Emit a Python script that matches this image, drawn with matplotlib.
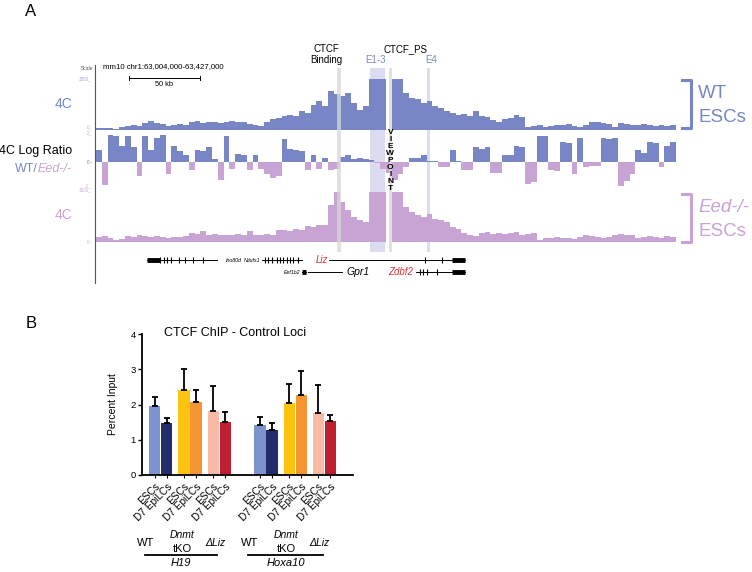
import matplotlib
matplotlib.use('Agg')
import matplotlib.pyplot as plt
from matplotlib.lines import Line2D
import numpy as np

plt.rcParams['font.family'] = ['Liberation Sans', 'DejaVu Sans']

W, H = 752, 572

# 4C signal, 100 bins across chr1:63,004,000-63,427,000
wt_4c = [100, 120, 90, 80, 150, 250, 300, 250, 400, 550,
         400, 350, 250, 300, 350, 300, 450, 550, 400, 500,
         450, 400, 500, 550, 450, 500, 350, 300, 250, 450,
         650, 700, 800, 900, 850, 1100, 1000, 1500, 1700, 1400,
         2300, 2100, 2000, 2200, 1600, 1200, 1400, 3000, 3000, 3000,
         0, 3000, 3000, 2200, 1900, 1800, 1600, 1700, 1400, 1300,
         1100, 1000, 900, 950, 850, 1100, 800, 750, 600, 500,
         650, 700, 900, 750, 200, 250, 300, 200, 250, 300,
         300, 350, 250, 200, 300, 450, 450, 400, 350, 150,
         400, 350, 300, 300, 350, 300, 250, 300, 250, 300]

log_ratio = [0.9, -1.7, 2.0, 1.9, 1.2, 1.9, 1.1, -1.0, 1.9, 0.9,
             1.8, 2.0, -0.9, 1.2, 0.8, 0.5, -0.6, 0.9, 0.8, 1.1,
             0.2, -1.3, 1.9, -0.5, 0.6, 0.5, -0.6, 0.5, -0.5, -0.9,
             -1.2, -1.0, 1.7, 1.0, 0.9, 0.8, -0.6, 0.5, -0.5, 0.3,
             -0.6, -0.5, 0.4, 0.5, 0.2, 0.3, 0.2, 0.15, -0.1, -0.5,
             -0.8, -1.3, -0.9, -0.4, 0.3, 0.3, 0.55, 0.1, 0.05, -0.4,
             -0.4, 0.9, 0.1, -0.6, -0.6, 1.1, 1.0, 1.1, -0.8, -0.8,
             0.5, 0.55, 1.2, 1.1, -1.6, -1.5, 1.9, 1.9, -0.6, -0.7,
             1.5, 1.4, -0.9, 1.8, -0.4, -0.3, -0.3, 1.8, 1.7, 1.8,
             -1.8, -1.4, -0.9, 0.9, 0.7, 1.5, 1.4, -0.4, 1.2, 1.5]

eed_4c = [300, 350, 250, 150, 200, 350, 300, 400, 350, 300,
          350, 300, 250, 300, 300, 350, 550, 500, 650, 450,
          500, 400, 450, 400, 500, 450, 650, 400, 450, 500,
          450, 750, 700, 650, 800, 750, 950, 900, 1000, 1050,
          2200, 3000, 2400, 1900, 1500, 1300, 1200, 3000, 3000, 3000,
          0, 3000, 3000, 2100, 1800, 1600, 1500, 1700, 1400, 1300,
          1200, 900, 800, 550, 450, 350, 550, 600, 500, 550,
          500, 550, 600, 450, 500, 550, 100, 250, 250, 300,
          250, 250, 200, 300, 400, 350, 300, 250, 300, 400,
          500, 450, 400, 250, 300, 350, 300, 250, 350, 300]

# highlighted regions (bin units)
hl_start = [41.6, 47.2, 50.5, 57.1]
hl_end = [42.3, 49.8, 51.0, 57.6]
hl_on_top = [True, False, True, False]

# gene models (bin units)
gene_names = ['Ino80d', 'Ndufs1', 'Liz', 'Eef1b2', 'Gpr1', 'Zdbf2']
gene_row = [260, 260, 260, 272, 272, 272]
gene_start = [8.8, 28.6, 40.2, 35.5, 36.6, 55.2]
gene_end = [20.9, 35.5, 63.6, 36.2, 42.4, 63.6]
gene_thick = [(8.8, 11.0), None, (61.4, 63.6), (35.5, 36.2), None, (61.4, 63.6)]
gene_exons = [[11.1, 11.7, 12.3, 13.0, 14.3, 15.3, 16.7, 18.5],
              [29.1, 29.7, 30.3, 31.2, 31.7, 32.2, 32.9, 33.4, 34.0, 34.8],
              [56.7, 59.7], [], [], [55.9, 56.4, 57.1, 58.8]]

# CTCF ChIP bar chart
conditions = ['ESCs', 'D7 EpiLCs'] * 6
loci = ['H19', 'Hoxa10']
genotypes = ['WT', 'Dnmt', 'ΔLiz']
pct_input = [1.96, 1.47, 2.41, 2.07, 1.81, 1.50, 1.43, 1.27, 2.05, 2.28, 1.77, 1.53]
pct_err = [0.24, 0.16, 0.60, 0.34, 0.72, 0.28, 0.21, 0.21, 0.54, 0.68, 0.77, 0.17]
bar_colors = ['#7D93CF', '#232D6B', '#FDC30F', '#F49433', '#F8B9A5', '#C01F32'] * 2

blue = '#7886C6'
purple = '#C7A4D3'
red = '#E0323C'


def box(x0, y0, x1, y1):
    return [x0 / W, 1 - y1 / H, (x1 - x0) / W, (y1 - y0) / H]


def fx(x):
    return x / W


def fy(y):
    return 1 - y / H


fig = plt.figure(figsize=(7.52, 5.72), dpi=100)

# ---------- panel A ----------
ax_bg = fig.add_axes(box(96, 68, 676, 252))
ax_bg.set_xlim(0, 100)
ax_bg.set_ylim(0, 1)
ax_bg.axis('off')
for a, b, top in zip(hl_start, hl_end, hl_on_top):
    if not top:
        ax_bg.axvspan(a, b, color='#DCDCF0', lw=0)

bins = np.arange(len(wt_4c))
ax_wt = fig.add_axes(box(96, 79, 676, 130))
ax_wt.bar(bins, wt_4c, width=1, align='edge', color=blue, lw=0)
ax_wt.set_ylim(0, 3000)

lr = np.array(log_ratio)
ax_lr = fig.add_axes(box(96, 135, 676, 189))
ax_lr.bar(bins, lr, width=1, align='edge', lw=0,
          color=[blue if v >= 0 else purple for v in lr])
ax_lr.set_ylim(-2, 2)

ax_eed = fig.add_axes(box(96, 192, 676, 242))
ax_eed.bar(bins, eed_4c, width=1, align='edge', color=purple, lw=0)
ax_eed.set_ylim(0, 3000)

for ax in (ax_wt, ax_lr, ax_eed):
    ax.set_xlim(0, 100)
    ax.patch.set_alpha(0)
    ax.axis('off')

ax_fg = fig.add_axes(box(96, 68, 676, 252))
ax_fg.set_xlim(0, 100)
ax_fg.set_ylim(0, 1)
ax_fg.axis('off')
for a, b, top in zip(hl_start, hl_end, hl_on_top):
    if top:
        ax_fg.axvspan(a, b, color='#D8D8D8', alpha=0.75, lw=0)
ax_fg.text(50.75, 0.5, '\n'.join('VIEWPOINT'), ha='center', va='center',
           fontsize=6, fontweight='bold', linespacing=1.0)

# genes
ax_g = fig.add_axes(box(96, 250, 676, 282))
ax_g.set_xlim(0, 100)
ax_g.set_ylim(282, 250)
ax_g.axis('off')
for name, row, s, e, thick, exons in zip(gene_names, gene_row, gene_start,
                                         gene_end, gene_thick, gene_exons):
    ax_g.plot([s, e], [row, row], color='k', lw=0.7)
    if thick:
        ax_g.plot(thick, [row, row], color='k', lw=3.5, solid_capstyle='butt')
    if exons:
        ax_g.plot(exons, [row] * len(exons), ls='none', marker='|', ms=4,
                  mew=0.8, color='k')
ax_g.text(22.4, 260, 'Ino80d', style='italic', fontsize=3.8, va='center')
ax_g.text(28.4, 260, 'Ndufs1', style='italic', fontsize=3.8, va='center', ha='right')
ax_g.text(40.0, 260, 'Liz', style='italic', fontsize=7, va='center', ha='right', color=red)
ax_g.text(35.2, 272, 'Eef1b2', style='italic', fontsize=3.8, va='center', ha='right')
ax_g.text(43.2, 272, 'Gpr1', style='italic', fontsize=7.5, va='center')
ax_g.text(54.7, 272, 'Zdbf2', style='italic', fontsize=7, va='center', ha='right', color=red)

# left axis line and scale info
fig.add_artist(Line2D([fx(95), fx(95)], [fy(65), fy(283)], color='#555555', lw=0.8))
fig.text(fx(93), fy(68), 'Scale', fontsize=3.5, ha='right', va='center', color='#555555')
fig.text(fx(103), fy(67), 'mm10 chr1:63,004,000-63,427,000', fontsize=5.6, va='center')
fig.add_artist(Line2D([fx(129), fx(200)], [fy(78), fy(78)], color='k', lw=0.7))
for xb in (129, 200):
    fig.add_artist(Line2D([fx(xb), fx(xb)], [fy(76), fy(80)], color='k', lw=0.7))
fig.text(fx(164), fy(84), '50 kb', fontsize=5.3, ha='center', va='center')

tick_col = '#A8B0DA'
for txt, y, c in [('3000_', 79, tick_col), ('0_', 127, tick_col), ('2_', 133, tick_col),
                  ('0 -', 162, '#777777'), ('-2_', 186, '#C8B0D8'),
                  ('3000_', 190, '#C8B0D8'), ('0 -', 242, '#C8B0D8')]:
    fig.text(fx(92), fy(y), txt, fontsize=3.3, ha='right', va='center', color=c)

fig.text(fx(31), fy(11), 'A', fontsize=12, ha='center', va='center')
fig.text(fx(72), fy(104), '4C', fontsize=10, ha='right', va='center', color=blue)
fig.text(fx(72), fy(151), '4C Log Ratio', fontsize=9, ha='right', va='center')
t_eed = fig.text(fx(72), fy(169), 'Eed-/-', fontsize=9, ha='right', va='center',
                 color=purple, style='italic')
ax_bg.annotate('WT/', xy=(0, 0.5), xycoords=t_eed, ha='right', va='center',
               fontsize=9, color=blue, annotation_clip=False)
fig.text(fx(72), fy(215), '4C', fontsize=10, ha='right', va='center', color=purple)

# region labels
fig.text(fx(326), fy(49), 'CTCF', fontsize=7, ha='center', va='center')
fig.text(fx(326), fy(60), 'Binding', fontsize=7, ha='center', va='center')
fig.text(fx(406), fy(49), 'CTCF_PS', fontsize=7, ha='center', va='center')
fig.text(fx(375), fy(60), 'E1-3', fontsize=7, ha='center', va='center', color=blue)
fig.text(fx(431), fy(60), 'E4', fontsize=7, ha='center', va='center', color=blue)

# brackets
for y0, y1, col in [(80, 128, blue), (194, 242, purple)]:
    fig.add_artist(Line2D([fx(682), fx(691), fx(691), fx(682)],
                          [fy(y0), fy(y0), fy(y1), fy(y1)], color=col, lw=2.2))
fig.text(fx(698), fy(93), 'WT', fontsize=13.5, va='center', color=blue)
fig.text(fx(698), fy(117), 'ESCs', fontsize=13.5, va='center', color=blue)
fig.text(fx(698), fy(208), 'Eed-/-', fontsize=13.5, va='center', color=purple, style='italic')
fig.text(fx(698), fy(232), 'ESCs', fontsize=13.5, va='center', color=purple)

# ---------- panel B ----------
fig.text(fx(31), fy(324), 'B', fontsize=12, ha='center', va='center')
ax_b = fig.add_axes(box(142, 334, 353, 475))
pos = [g * 8.75 + p * 2.42 + k for g in range(2) for p in range(3) for k in range(2)]
ax_b.bar(pos, pct_input, width=0.92, color=bar_colors, lw=0)
ax_b.errorbar(pos, pct_input, yerr=[np.zeros(len(pct_err)), pct_err], fmt='none',
              ecolor='k', elinewidth=1.3, capsize=2.4, capthick=1.3)
ax_b.set_xlim(-1.08, 16.5)
ax_b.set_ylim(0, 4)
ax_b.set_yticks([0, 1, 2, 3, 4])
ax_b.set_xticks(pos)
ax_b.set_xticklabels(conditions, rotation=45, ha='right', rotation_mode='anchor', fontsize=7.3)
ax_b.tick_params(axis='y', labelsize=6.8, length=3, width=1, pad=1.5)
ax_b.tick_params(axis='x', length=2.5, width=0.8, pad=2)
for s in ('top', 'right'):
    ax_b.spines[s].set_visible(False)
for s in ('left', 'bottom'):
    ax_b.spines[s].set_linewidth(1.3)
ax_b.set_ylabel('Percent Input', fontsize=7.5)
ax_b.yaxis.set_label_coords(-0.114, 0.5)
fig.text(fx(235), fy(336), 'CTCF ChIP - Control Loci', fontsize=9, ha='center', va='baseline')

for g, locus in enumerate(loci):
    xs = [146, 182, 215] if g == 0 else [250, 286, 319]
    fig.text(fx(xs[0]), fy(543), genotypes[0], fontsize=8, ha='center', va='center')
    fig.text(fx(xs[1]), fy(535), genotypes[1], fontsize=7.5, ha='center', va='center', style='italic')
    fig.text(fx(xs[1]), fy(549), 'tKO', fontsize=8, ha='center', va='center')
    fig.text(fx(xs[2]), fy(543), genotypes[2], fontsize=7.5, ha='center', va='center', style='italic')
    x0, x1 = (145, 217) if g == 0 else (248, 323)
    fig.add_artist(Line2D([fx(x0), fx(x1)], [fy(554.5), fy(554.5)], color='k', lw=1.3))
    fig.text(fx((x0 + x1) / 2), fy(557.5), locus, fontsize=8, ha='center', va='top', style='italic')

fig.savefig('out.png', dpi=100)
